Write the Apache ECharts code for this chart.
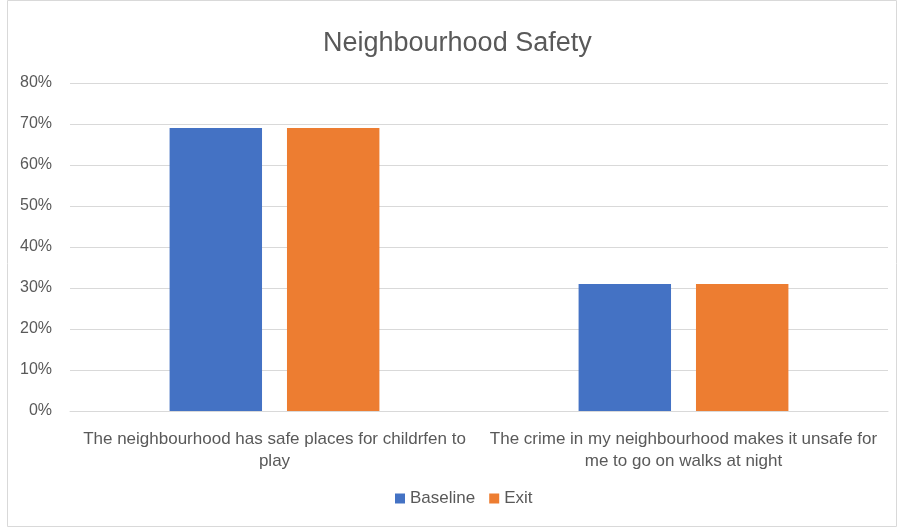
<!DOCTYPE html>
<html><head><meta charset="utf-8">
<script src="https://cdn.jsdelivr.net/npm/echarts@6/dist/echarts.min.js"></script>
<style>html,body{margin:0;padding:0;background:#fff}#c{width:899px;height:529px}</style>
</head><body><div id="c"></div>
<script>
const title = 'Neighbourhood Safety';
const categories = [
  'The neighbourhood has safe places for childrfen to\nplay',
  'The crime in my neighbourhood makes it unsafe for\nme to go on walks at night'
];
const seriesNames = ['Baseline', 'Exit'];
const baseline = [0.69, 0.31];
const exitVals = [0.69, 0.31];
const yTicks = [0, 0.1, 0.2, 0.3, 0.4, 0.5, 0.6, 0.7, 0.8];

const font = '"Liberation Sans", sans-serif';
const chart = echarts.init(document.getElementById('c'), null, {renderer: 'canvas'});
chart.setOption({
  animation: false,
  color: ['#4472c4', '#ed7d31'],
  title: {
    text: title, left: 318, top: 25,
    textStyle: {fontFamily: font, fontSize: 27, fontWeight: 'normal', color: '#595959'}
  },
  graphic: [{type: 'rect', shape: {x: 7.5, y: 0.5, width: 889, height: 526}, style: {fill: null, stroke: '#d9d9d9', lineWidth: 1}, silent: true}],
  legend: {
    data: seriesNames, bottom: 17, left: 390, itemWidth: 10, itemHeight: 10, itemGap: 14,
    icon: 'rect',
    textStyle: {fontFamily: font, fontSize: 17, color: '#595959'}
  },
  grid: {left: 70, right: 11, top: 83, bottom: 118, containLabel: false},
  xAxis: {
    type: 'category', data: categories,
    axisLine: {lineStyle: {color: '#d9d9d9'}},
    axisTick: {show: false},
    axisLabel: {fontFamily: font, fontSize: 17, color: '#595959', interval: 0, margin: 17, lineHeight: 22, align: 'center'}
  },
  yAxis: {
    type: 'value', min: 0, max: yTicks[yTicks.length - 1], interval: 0.1,
    axisLine: {show: false}, axisTick: {show: false},
    splitLine: {lineStyle: {color: '#d9d9d9'}},
    axisLabel: {fontFamily: font, fontSize: 16, color: '#595959', margin: 18,
      formatter: v => Math.round(v * 100) + '%'}
  },
  series: [
    {name: seriesNames[0], type: 'bar', data: baseline, barWidth: '22.6%', barGap: '27%'},
    {name: seriesNames[1], type: 'bar', data: exitVals, barWidth: '22.6%', barGap: '27%'}
  ]
});
</script></body></html>
